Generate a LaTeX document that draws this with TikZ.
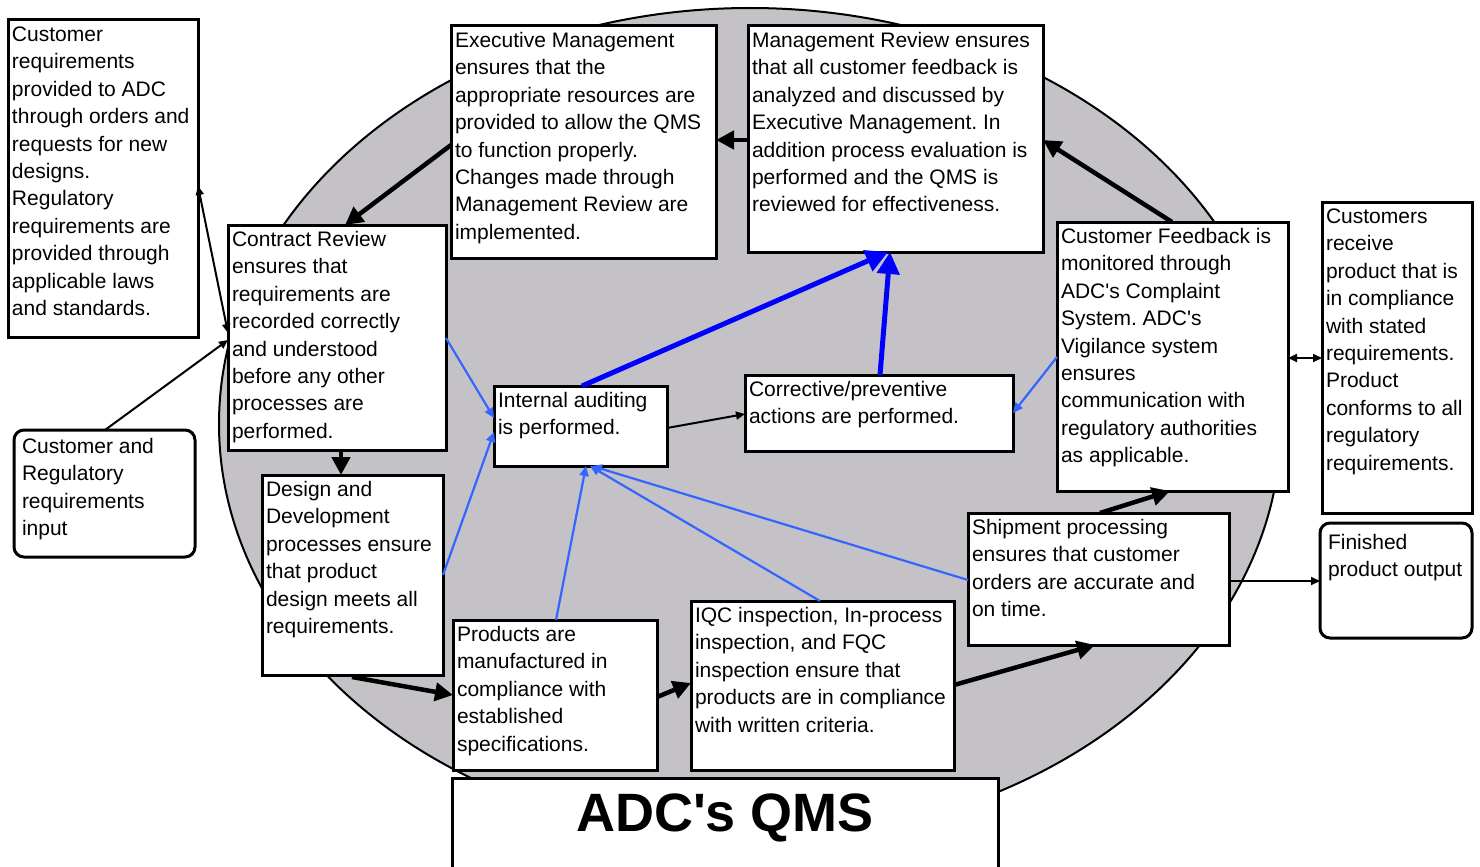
\documentclass[tikz,border=0pt]{standalone}
\usepackage{fontspec}
\setmainfont{Liberation Sans}
\usetikzlibrary{arrows.meta,calc}
\definecolor{ellgray}{RGB}{196,194,199}
\definecolor{lblue}{RGB}{51,102,255}
\definecolor{dblue}{RGB}{0,0,255}
\newcommand{\bxt}[3]{\parbox[c][#2][t]{#1}{\frenchspacing\begin{tabular}[t]{@{}l@{}}#3\end{tabular}}}
\newcommand{\ap}{\textquotesingle}
\frenchspacing
\begin{document}
\begin{tikzpicture}[x=1pt,y=-1pt,
  bx/.style={draw, line width=3pt, fill=white, anchor=north west, outer sep=0pt,
     inner xsep=4pt, inner ysep=2pt, font=\fontsize{21}{27.45}\selectfont},
  rbx/.style={bx, rounded corners=10pt, inner xsep=8pt},
  thk/.style={line width=4.5pt, -{Triangle[length=18pt,width=18pt]}},
  thn/.style={line width=2pt, -{Triangle[length=9pt,width=8pt]}},
  thnb/.style={line width=2pt, {Triangle[length=9pt,width=8pt]}-{Triangle[length=9pt,width=8pt]}},
  bluethin/.style={lblue, line width=2.2pt, -{Triangle[length=10pt,width=9pt]}},
  bluethk/.style={dblue, line width=5pt, -{Triangle[length=22pt,width=22pt]}}]
\clip (0,0) rectangle (1480,867);
\fill[white] (0,0) rectangle (1480,867);
% ellipse
\filldraw[fill=ellgray, draw=black, line width=2pt] (750,424) ellipse [x radius=531pt, y radius=416pt];

% boxes
\node[bx] (cust) at (8,20) {\bxt{182pt}{313pt}{Customer\\ requirements\\ provided to ADC\\ through orders and\\ requests for new\\ designs.\\ Regulatory\\ requirements are\\ provided through\\ applicable laws\\ and standards.}};
\node[rbx, inner ysep=4pt] (inp) at (14,430) {\bxt{165pt}{119pt}{Customer and\\ Regulatory\\ requirements\\ input}};
\node[bx] (cr) at (228,225) {\bxt{210pt}{221pt}{Contract Review\\ ensures that\\ requirements are\\ recorded correctly\\ and understood\\ before any other\\ processes are\\ performed.}};
\node[bx] (em) at (451,26) {\bxt{257pt}{228pt}{Executive Management\\ ensures that the\\ appropriate resources are\\ provided to allow the QMS\\ to function properly.\\ Changes made through\\ Management Review are\\ implemented.}};
\node[bx] (mr) at (748,26) {\bxt{287pt}{222pt}{Management Review ensures\\ that all customer feedback is\\ analyzed and discussed by\\ Executive Management. In\\ addition process evaluation is\\ performed and the QMS is\\ reviewed for effectiveness.}};
\node[bx] (cf) at (1057,222) {\bxt{223pt}{265pt}{Customer Feedback is\\ monitored through\\ ADC\ap s Complaint\\ System. ADC\ap s\\ Vigilance system\\ ensures\\ communication with\\ regulatory authorities\\ as applicable.}};
\node[bx] (crv) at (1322,202) {\bxt{142pt}{307pt}{Customers\\ receive\\ product that is\\ in compliance\\ with stated\\ requirements.\\ Product\\ conforms to all\\ regulatory\\ requirements.}};
\node[rbx, inner ysep=7pt] (fin) at (1320,523) {\bxt{136pt}{101pt}{Finished\\ product output}};
\node[bx] (ia) at (494,386) {\bxt{165pt}{76pt}{Internal auditing\\ is performed.}};
\node[bx] (cp) at (745,375) {\bxt{260pt}{72pt}{Corrective/preventive\\ actions are performed.}};
\node[bx] (dd) at (262,475) {\bxt{173pt}{196pt}{Design and\\ Development\\ processes ensure\\ that product\\ design meets all\\ requirements.}};
\node[bx] (pm) at (453,620) {\bxt{196pt}{146pt}{Products are\\ manufactured in\\ compliance with\\ established\\ specifications.}};
\node[bx] (iqc) at (691,601) {\bxt{255pt}{165pt}{IQC inspection, In-process\\ inspection, and FQC\\ inspection ensure that\\ products are in compliance\\ with written criteria.}};
\node[bx] (sp) at (968,513) {\bxt{253pt}{128pt}{Shipment processing\\ ensures that customer\\ orders are accurate and\\ on time.}};
\node[bx, inner xsep=3pt, font=\fontsize{54}{60}\selectfont\bfseries] (qms) at (452,778) {\parbox[c][106pt][t]{540pt}{\centering\rule{0pt}{51pt}ADC\ap s QMS}};

% black thick arrows
\draw[thk] ($(em.north west)+(0,119)$) -- ($(cr.north west)+(117,0)$);
\draw[thk] ($(mr.north west)+(0,114)$) -- ($(em.north east)+(0,114)$);
\draw[thk] ($(cf.north west)+(115,0)$) -- ($(mr.north east)+(0,114)$);
\draw[thk] ($(cr.south west)+(113,0)$) -- ($(dd.north west)+(79,0)$);
\draw[thk] ($(dd.south west)+(90,2)$) -- ($(pm.north west)+(0,75)$);
\draw[thk] ($(pm.north east)+(0,77)$) -- ($(iqc.north west)+(0,82)$);
\draw[thk] ($(iqc.north east)+(0,84)$) -- ($(sp.south west)+(127,0)$);
\draw[thk] ($(sp.north west)+(132,0)$) -- ($(cf.south west)+(113,0)$);

% black thin arrows
\draw[thn] ($(ia.north east)+(0,42)$) -- ($(cp.north west)+(0,39)$);
\draw[thn] ($(inp.north west)+(91,0)$) -- ($(cr.north west)+(0,115)$);
\draw[thnb] ($(cr.north west)+(0,108)$) -- ($(cust.north east)+(0,166)$);
\draw[thnb] ($(cf.north east)+(0,136)$) -- ($(crv.north west)+(0,156)$);
\draw[thn] ($(sp.north east)+(0,68)$) -- ($(fin.north west)+(0,58)$);

% blue thick arrows
\draw[bluethk] ($(ia.north west)+(88,0)$) -- ($(mr.south west)+(140,0)$);
\draw[bluethk] ($(cp.north west)+(135,0)$) -- ($(mr.south west)+(142,0)$);

% blue thin arrows
\draw[bluethin] ($(cr.north east)+(0,113)$) -- ($(ia.north west)+(0,32)$);
\draw[bluethin] ($(dd.north east)+(0,100)$) -- ($(ia.north west)+(0,46)$);
\draw[bluethin] ($(pm.north west)+(103,0)$) -- ($(ia.south west)+(92,0)$);
\draw[bluethin] ($(iqc.north west)+(129,0)$) -- ($(ia.south west)+(96,0)$);
\draw[bluethin] ($(sp.north west)+(0,67)$) -- ($(ia.south west)+(98,0)$);
\draw[bluethin] ($(cf.north west)+(0,135)$) -- ($(cp.north east)+(0,38)$);
\end{tikzpicture}
\end{document}
